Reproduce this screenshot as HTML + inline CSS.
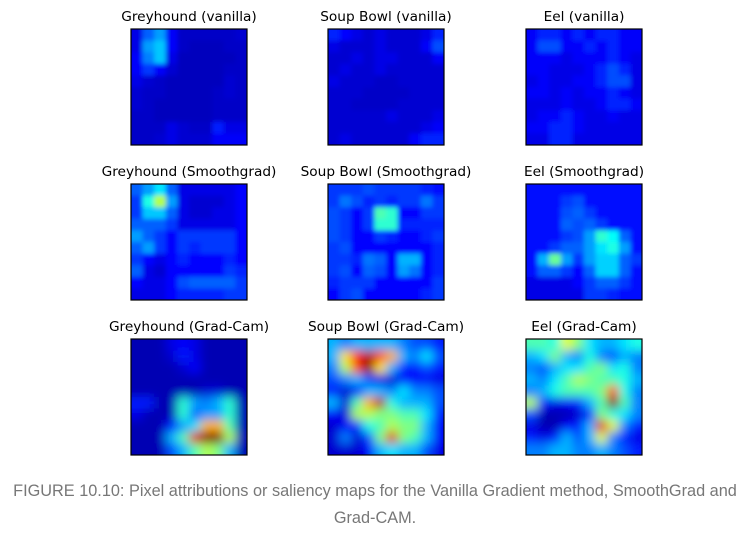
<!DOCTYPE html>
<html><head><meta charset="utf-8"><style>
body{margin:0;background:#fff;width:750px;height:537px;overflow:hidden;font-family:"DejaVu Sans","Liberation Sans",sans-serif}
.cap{position:absolute;left:0;width:750px;text-align:center;color:#777;font-family:"Liberation Sans",sans-serif;font-size:16.3px;white-space:nowrap}
</style></head><body>
<svg id="fig" width="750" height="470" style="position:absolute;left:0;top:0">
<defs>
<filter id="b1" x="-10%" y="-10%" width="120%" height="120%"><feGaussianBlur stdDeviation="2.5"/></filter>
<filter id="b2" x="-10%" y="-10%" width="120%" height="120%"><feGaussianBlur stdDeviation="5"/></filter>
</defs>
</svg>
<div class="cap" style="top:482px">FIGURE 10.10: Pixel attributions or saliency maps for the Vanilla Gradient method, SmoothGrad and</div>
<div class="cap" style="top:509px">Grad-CAM.</div>
<script>
const titles=[["Greyhound (vanilla)","Soup Bowl (vanilla)","Eel (vanilla)"],["Greyhound (Smoothgrad)","Soup Bowl (Smoothgrad)","Eel (Smoothgrad)"],["Greyhound (Grad-Cam)","Soup Bowl (Grad-Cam)","Eel (Grad-Cam)"]];
const greyVanilla=[
[.1,.22,.28,.12,.07,.07,.07,.07,.07,.08],
[.1,.28,.32,.12,.07,.06,.06,.06,.07,.07],
[.12,.25,.32,.1,.06,.06,.06,.06,.06,.07],
[.12,.18,.12,.08,.06,.06,.06,.06,.07,.07],
[.1,.08,.07,.06,.06,.06,.06,.06,.08,.07],
[.08,.07,.07,.06,.06,.06,.06,.07,.08,.07],
[.08,.07,.06,.06,.06,.06,.06,.07,.07,.07],
[.07,.07,.06,.06,.06,.06,.06,.07,.07,.07],
[.07,.07,.07,.1,.08,.07,.07,.15,.1,.1],
[.07,.07,.08,.1,.08,.08,.08,.12,.12,.12]];
const soupVanilla=[
[.16,.13,.1,.08,.1,.08,.08,.08,.1,.16],
[.1,.08,.08,.08,.1,.08,.08,.08,.12,.2],
[.08,.08,.1,.08,.1,.1,.08,.08,.08,.12],
[.08,.1,.08,.08,.1,.08,.08,.08,.08,.08],
[.1,.08,.08,.08,.07,.07,.08,.08,.08,.08],
[.08,.08,.08,.07,.07,.07,.07,.08,.08,.08],
[.08,.08,.07,.07,.07,.07,.08,.08,.08,.08],
[.08,.08,.08,.08,.08,.1,.08,.08,.08,.1],
[.08,.08,.08,.08,.08,.08,.08,.08,.1,.12],
[.08,.1,.08,.08,.08,.08,.08,.12,.16,.16]];
const eelVanilla=[
[.12,.16,.16,.12,.16,.12,.16,.16,.12,.12],
[.12,.2,.2,.12,.12,.16,.12,.16,.12,.12],
[.12,.12,.12,.1,.12,.12,.12,.16,.12,.1],
[.12,.12,.1,.1,.1,.12,.16,.2,.16,.1],
[.1,.12,.1,.1,.12,.12,.16,.2,.2,.1],
[.12,.12,.1,.12,.1,.12,.12,.16,.12,.1],
[.1,.1,.1,.12,.1,.1,.12,.16,.16,.12],
[.1,.12,.12,.16,.12,.1,.1,.12,.1,.1],
[.12,.12,.16,.16,.12,.1,.1,.1,.1,.1],
[.1,.1,.16,.16,.1,.1,.1,.1,.1,.1]];
const greySmooth=[
[.22,.28,.35,.22,.1,.1,.1,.1,.1,.13],
[.18,.4,.55,.28,.1,.08,.08,.08,.1,.13],
[.18,.32,.32,.22,.1,.08,.08,.1,.1,.13],
[.22,.22,.22,.18,.1,.1,.1,.1,.1,.13],
[.28,.22,.18,.13,.18,.18,.18,.18,.18,.13],
[.22,.28,.18,.13,.18,.16,.18,.18,.18,.13],
[.18,.13,.1,.13,.16,.13,.13,.13,.16,.13],
[.22,.1,.08,.13,.13,.13,.13,.13,.18,.16],
[.13,.1,.1,.13,.2,.22,.22,.22,.22,.18],
[.1,.1,.1,.13,.16,.16,.16,.16,.18,.18]];
const soupSmooth=[
[.18,.18,.18,.2,.18,.18,.18,.18,.16,.14],
[.18,.24,.2,.16,.18,.16,.18,.18,.24,.18],
[.2,.18,.13,.18,.45,.42,.13,.13,.18,.18],
[.2,.18,.13,.18,.42,.42,.16,.16,.16,.16],
[.2,.18,.13,.13,.18,.16,.13,.13,.16,.18],
[.18,.2,.13,.13,.13,.13,.13,.13,.13,.16],
[.18,.18,.16,.24,.22,.13,.3,.3,.13,.16],
[.18,.2,.13,.22,.2,.13,.28,.24,.13,.16],
[.16,.18,.18,.18,.13,.13,.13,.13,.13,.18],
[.13,.18,.2,.13,.13,.13,.13,.13,.16,.18]];
const eelSmooth=[
[.14,.14,.14,.14,.14,.14,.14,.14,.14,.14],
[.14,.14,.14,.18,.2,.14,.14,.14,.14,.14],
[.14,.14,.14,.2,.22,.18,.14,.14,.14,.14],
[.14,.14,.14,.22,.2,.22,.18,.14,.14,.14],
[.14,.14,.14,.18,.2,.28,.42,.38,.22,.14],
[.14,.14,.18,.22,.22,.28,.35,.4,.28,.14],
[.14,.3,.48,.28,.18,.28,.33,.33,.22,.18],
[.14,.22,.22,.18,.13,.22,.33,.33,.22,.14],
[.1,.1,.1,.1,.13,.18,.22,.22,.18,.14],
[.1,.1,.1,.1,.1,.18,.18,.16,.14,.14]];
const greyCam=[
[.05,.05,.05,.1,.12,.1,.05,.05,.05,.05],
[.05,.05,.05,.08,.15,.1,.05,.05,.05,.05],
[.05,.05,.05,.05,.08,.12,.05,.05,.05,.05],
[.05,.05,.05,.05,.05,.05,.05,.05,.05,.05],
[.05,.05,.05,.05,.05,.05,.08,.08,.05,.05],
[.15,.15,.05,.05,.42,.28,.25,.3,.42,.05],
[.1,.05,.05,.05,.42,.22,.28,.28,.42,.05],
[.05,.05,.05,.15,.28,.35,.7,.7,.45,.05],
[.05,.05,.05,.3,.45,.9,1,1,.55,.05],
[.05,.05,.05,.2,.3,.45,.55,.5,.3,.05]];
const soupCam=[
[.3,.25,.3,.3,.3,.3,.25,.2,.2,.15],
[.3,.65,.85,.95,.8,.7,.3,.25,.35,.2],
[.25,.55,.8,1,.65,.3,.15,.15,.2,.15],
[.2,.25,.3,.2,.1,.08,.15,.12,.12,.1],
[.15,.08,.12,.3,.3,.25,.35,.25,.25,.2],
[.3,.08,.45,.7,.95,.4,.3,.3,.3,.2],
[.12,.08,.55,.55,.5,.5,.45,.45,.35,.15],
[.08,.12,.15,.4,.45,.55,.5,.5,.3,.12],
[.08,.25,.08,.2,.5,.9,.5,.45,.3,.12],
[.08,.08,.08,.12,.3,.35,.3,.3,.2,.1]];
const eelCam=[
[.45,.45,.4,.6,.5,.35,.3,.3,.35,.4],
[.3,.35,.5,.3,.25,.4,.25,.2,.3,.25],
[.25,.2,.3,.35,.35,.45,.5,.35,.4,.25],
[.3,.25,.35,.45,.55,.5,.45,.45,.4,.3],
[.25,.3,.4,.45,.45,.45,.5,.8,.4,.25],
[.55,.15,.1,.12,.15,.3,.45,1,.45,.25],
[.2,.05,.05,.05,.08,.15,.5,.4,.35,.25],
[.1,.05,.05,.12,.15,.3,.9,.6,.25,.15],
[.15,.1,.15,.3,.2,.3,.6,.25,.15,.1],
[.25,.25,.3,.3,.25,.25,.3,.25,.2,.15]];
const maps=[[greyVanilla,soupVanilla,eelVanilla],[greySmooth,soupSmooth,eelSmooth],[greyCam,soupCam,eelCam]];
const NS="http://www.w3.org/2000/svg";
const svg=document.getElementById('fig');
const colX=[131,328,526], rowY=[29,184,339], S=116;
function cl(v){return Math.max(0,Math.min(1,v));}
function jet(x){const r=cl(1.5-Math.abs(4*x-3)),g=cl(1.5-Math.abs(4*x-2)),b=cl(1.5-Math.abs(4*x-1));return `rgb(${Math.round(r*255)},${Math.round(g*255)},${Math.round(b*255)})`;}
function mk(t,a){const e=document.createElementNS(NS,t);for(const k in a)e.setAttribute(k,a[k]);return e;}
const names=["greyhound","soup-bowl","eel"];
const kinds=["vanilla","smoothgrad","gradcam"];
for(let r=0;r<3;r++)for(let c=0;c<3;c++){
  const x0=colX[c],y0=rowY[r],m=maps[r][c],n=m.length,cs=S/n;
  const t=mk('text',{x:x0+S/2,y:y0-8,'text-anchor':'middle','font-size':13.7,fill:'#000'});
  t.textContent=titles[r][c];
  
  
  svg.appendChild(t);
  const cp=mk('clipPath',{id:'cp'+r+c});cp.appendChild(mk('rect',{x:x0,y:y0,width:S,height:S}));svg.appendChild(cp);
  const g=mk('g',{'clip-path':'url(#cp'+r+c+')'});
  
  
  g.appendChild(mk('rect',{x:x0,y:y0,width:S,height:S,fill:jet(m[0][0])}));
  const inner=mk('g',{filter:r==2?'url(#b2)':'url(#b1)'});
  for(let i=-1;i<=n;i++)for(let j=-1;j<=n;j++){
    const ii=Math.max(0,Math.min(n-1,i)),jj=Math.max(0,Math.min(n-1,j));
    const cell=mk('rect',{x:x0+j*cs,y:y0+i*cs,width:cs+0.5,height:cs+0.5,fill:jet(m[ii][jj])});
    
    
    inner.appendChild(cell);
  }
  g.appendChild(inner);svg.appendChild(g);
  const fr=mk('rect',{x:x0,y:y0,width:S,height:S,fill:'none',stroke:'#000','stroke-width':1.2});
  
  
  svg.appendChild(fr);
}
</script>
</body></html>
